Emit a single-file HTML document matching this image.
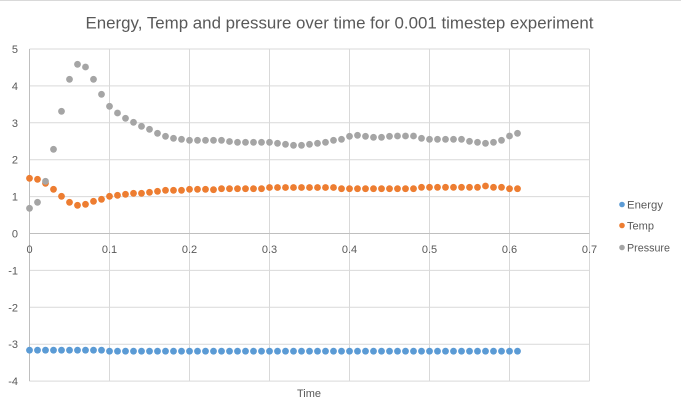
<!DOCTYPE html>
<html><head><meta charset="utf-8"><style>
html,body{margin:0;padding:0;background:#fff;}
svg{display:block;}
text{font-family:"Liberation Sans",sans-serif;fill:#595959;}
</style></head><body>
<svg width="681" height="411" viewBox="0 0 681 411" xmlns="http://www.w3.org/2000/svg">
<rect x="0" y="0" width="681" height="411" fill="#fff"/>
<line x1="0" y1="0.5" x2="681" y2="0.5" stroke="#d9d9d9" stroke-width="1"/>
<text x="339.5" y="28.5" font-size="17" text-anchor="middle" textLength="508" lengthAdjust="spacingAndGlyphs">Energy, Temp and pressure over time for 0.001 timestep experiment</text>
<g stroke="#d9d9d9" stroke-width="1">
<line x1="29.5" y1="49" x2="589.5" y2="49"/>
<line x1="29.5" y1="85.9" x2="589.5" y2="85.9"/>
<line x1="29.5" y1="122.8" x2="589.5" y2="122.8"/>
<line x1="29.5" y1="159.7" x2="589.5" y2="159.7"/>
<line x1="29.5" y1="196.6" x2="589.5" y2="196.6"/>
<line x1="29.5" y1="270.4" x2="589.5" y2="270.4"/>
<line x1="29.5" y1="307.3" x2="589.5" y2="307.3"/>
<line x1="29.5" y1="344.2" x2="589.5" y2="344.2"/>
<line x1="29.5" y1="381.1" x2="589.5" y2="381.1"/>
<line x1="109.5" y1="49" x2="109.5" y2="381.1"/>
<line x1="189.5" y1="49" x2="189.5" y2="381.1"/>
<line x1="269.5" y1="49" x2="269.5" y2="381.1"/>
<line x1="349.5" y1="49" x2="349.5" y2="381.1"/>
<line x1="429.5" y1="49" x2="429.5" y2="381.1"/>
<line x1="509.5" y1="49" x2="509.5" y2="381.1"/>
<line x1="589.5" y1="49" x2="589.5" y2="381.1"/>
</g>
<g stroke="#bfbfbf" stroke-width="1">
<line x1="29.5" y1="233.5" x2="589.5" y2="233.5"/>
<line x1="29.5" y1="49" x2="29.5" y2="381.1"/>
</g>
<g font-size="11" text-anchor="end">
<text x="18" y="53">5</text>
<text x="18" y="89.9">4</text>
<text x="18" y="126.8">3</text>
<text x="18" y="163.7">2</text>
<text x="18" y="200.6">1</text>
<text x="18" y="237.5">0</text>
<text x="18" y="274.4">-1</text>
<text x="18" y="311.3">-2</text>
<text x="18" y="348.2">-3</text>
<text x="18" y="385.1">-4</text>
</g>
<g font-size="11" text-anchor="middle">
<text x="29.5" y="253">0</text>
<text x="109.5" y="253">0.1</text>
<text x="189.5" y="253">0.2</text>
<text x="269.5" y="253">0.3</text>
<text x="349.5" y="253">0.4</text>
<text x="429.5" y="253">0.5</text>
<text x="509.5" y="253">0.6</text>
<text x="589.5" y="253">0.7</text>
<text x="309" y="397">Time</text>
</g>
<g fill="#5b9bd5">
<circle cx="29.5" cy="350.2" r="3.4"/><circle cx="37.5" cy="350.2" r="3.4"/><circle cx="45.5" cy="350.2" r="3.4"/><circle cx="53.5" cy="350.2" r="3.4"/><circle cx="61.5" cy="350.2" r="3.4"/><circle cx="69.5" cy="350.2" r="3.4"/><circle cx="77.5" cy="350.2" r="3.4"/><circle cx="85.5" cy="350.2" r="3.4"/><circle cx="93.5" cy="350.2" r="3.4"/><circle cx="101.5" cy="350.2" r="3.4"/>
<circle cx="109.5" cy="351.2" r="3.4"/><circle cx="117.5" cy="351.2" r="3.4"/><circle cx="125.5" cy="351.2" r="3.4"/><circle cx="133.5" cy="351.2" r="3.4"/><circle cx="141.5" cy="351.2" r="3.4"/><circle cx="149.5" cy="351.2" r="3.4"/><circle cx="157.5" cy="351.2" r="3.4"/><circle cx="165.5" cy="351.2" r="3.4"/><circle cx="173.5" cy="351.2" r="3.4"/><circle cx="181.5" cy="351.2" r="3.4"/>
<circle cx="189.5" cy="351.2" r="3.4"/><circle cx="197.5" cy="351.2" r="3.4"/><circle cx="205.5" cy="351.2" r="3.4"/><circle cx="213.5" cy="351.2" r="3.4"/><circle cx="221.5" cy="351.2" r="3.4"/><circle cx="229.5" cy="351.2" r="3.4"/><circle cx="237.5" cy="351.2" r="3.4"/><circle cx="245.5" cy="351.2" r="3.4"/><circle cx="253.5" cy="351.2" r="3.4"/><circle cx="261.5" cy="351.2" r="3.4"/>
<circle cx="269.5" cy="351.2" r="3.4"/><circle cx="277.5" cy="351.2" r="3.4"/><circle cx="285.5" cy="351.2" r="3.4"/><circle cx="293.5" cy="351.2" r="3.4"/><circle cx="301.5" cy="351.2" r="3.4"/><circle cx="309.5" cy="351.2" r="3.4"/><circle cx="317.5" cy="351.2" r="3.4"/><circle cx="325.5" cy="351.2" r="3.4"/><circle cx="333.5" cy="351.2" r="3.4"/><circle cx="341.5" cy="351.2" r="3.4"/>
<circle cx="349.5" cy="351.2" r="3.4"/><circle cx="357.5" cy="351.2" r="3.4"/><circle cx="365.5" cy="351.2" r="3.4"/><circle cx="373.5" cy="351.2" r="3.4"/><circle cx="381.5" cy="351.2" r="3.4"/><circle cx="389.5" cy="351.2" r="3.4"/><circle cx="397.5" cy="351.2" r="3.4"/><circle cx="405.5" cy="351.2" r="3.4"/><circle cx="413.5" cy="351.2" r="3.4"/><circle cx="421.5" cy="351.2" r="3.4"/>
<circle cx="429.5" cy="351.2" r="3.4"/><circle cx="437.5" cy="351.2" r="3.4"/><circle cx="445.5" cy="351.2" r="3.4"/><circle cx="453.5" cy="351.2" r="3.4"/><circle cx="461.5" cy="351.2" r="3.4"/><circle cx="469.5" cy="351.2" r="3.4"/><circle cx="477.5" cy="351.2" r="3.4"/><circle cx="485.5" cy="351.2" r="3.4"/><circle cx="493.5" cy="351.2" r="3.4"/><circle cx="501.5" cy="351.2" r="3.4"/>
<circle cx="509.5" cy="351.2" r="3.4"/><circle cx="517.5" cy="351.2" r="3.4"/>
</g>
<g fill="#ed7d31">
<circle cx="29.5" cy="178.3" r="3.4"/><circle cx="37.5" cy="179.3" r="3.4"/><circle cx="45.5" cy="183.3" r="3.4"/><circle cx="53.5" cy="189.3" r="3.4"/><circle cx="61.5" cy="196.3" r="3.4"/><circle cx="69.5" cy="202.3" r="3.4"/><circle cx="77.5" cy="205.3" r="3.4"/><circle cx="85.5" cy="204.3" r="3.4"/><circle cx="93.5" cy="201.3" r="3.4"/><circle cx="101.5" cy="199.3" r="3.4"/>
<circle cx="109.5" cy="196.3" r="3.4"/><circle cx="117.5" cy="195.3" r="3.4"/><circle cx="125.5" cy="194.3" r="3.4"/><circle cx="133.5" cy="193.3" r="3.4"/><circle cx="141.5" cy="193.3" r="3.4"/><circle cx="149.5" cy="192.3" r="3.4"/><circle cx="157.5" cy="191.3" r="3.4"/><circle cx="165.5" cy="190.3" r="3.4"/><circle cx="173.5" cy="190.3" r="3.4"/><circle cx="181.5" cy="190.3" r="3.4"/>
<circle cx="189.5" cy="189.3" r="3.4"/><circle cx="197.5" cy="189.3" r="3.4"/><circle cx="205.5" cy="189.3" r="3.4"/><circle cx="213.5" cy="189.7" r="3.4"/><circle cx="221.5" cy="188.7" r="3.4"/><circle cx="229.5" cy="188.7" r="3.4"/><circle cx="237.5" cy="188.7" r="3.4"/><circle cx="245.5" cy="188.7" r="3.4"/><circle cx="253.5" cy="188.7" r="3.4"/><circle cx="261.5" cy="188.7" r="3.4"/>
<circle cx="269.5" cy="187.5" r="3.4"/><circle cx="277.5" cy="187.5" r="3.4"/><circle cx="285.5" cy="187.5" r="3.4"/><circle cx="293.5" cy="187.5" r="3.4"/><circle cx="301.5" cy="187.5" r="3.4"/><circle cx="309.5" cy="187.5" r="3.4"/><circle cx="317.5" cy="187.5" r="3.4"/><circle cx="325.5" cy="187.5" r="3.4"/><circle cx="333.5" cy="187.5" r="3.4"/><circle cx="341.5" cy="188.7" r="3.4"/>
<circle cx="349.5" cy="188.7" r="3.4"/><circle cx="357.5" cy="188.7" r="3.4"/><circle cx="365.5" cy="188.7" r="3.4"/><circle cx="373.5" cy="188.7" r="3.4"/><circle cx="381.5" cy="188.7" r="3.4"/><circle cx="389.5" cy="188.7" r="3.4"/><circle cx="397.5" cy="188.7" r="3.4"/><circle cx="405.5" cy="188.7" r="3.4"/><circle cx="413.5" cy="188.7" r="3.4"/><circle cx="421.5" cy="187.3" r="3.4"/>
<circle cx="429.5" cy="187.3" r="3.4"/><circle cx="437.5" cy="187.3" r="3.4"/><circle cx="445.5" cy="187.3" r="3.4"/><circle cx="453.5" cy="187.3" r="3.4"/><circle cx="461.5" cy="187.3" r="3.4"/><circle cx="469.5" cy="187.3" r="3.4"/><circle cx="477.5" cy="187.3" r="3.4"/><circle cx="485.5" cy="186" r="3.4"/><circle cx="493.5" cy="187.3" r="3.4"/><circle cx="501.5" cy="187.3" r="3.4"/>
<circle cx="509.5" cy="188.7" r="3.4"/><circle cx="517.5" cy="188.7" r="3.4"/>
</g>
<g fill="#a5a5a5">
<circle cx="29.5" cy="208.3" r="3.4"/><circle cx="37.5" cy="202.3" r="3.4"/><circle cx="45.5" cy="181.3" r="3.4"/><circle cx="53.5" cy="149.3" r="3.4"/><circle cx="61.5" cy="111.3" r="3.4"/><circle cx="69.5" cy="79.3" r="3.4"/><circle cx="77.5" cy="64.3" r="3.4"/><circle cx="85.5" cy="67" r="3.4"/><circle cx="93.5" cy="79.3" r="3.4"/><circle cx="101.5" cy="94.3" r="3.4"/>
<circle cx="109.5" cy="106.3" r="3.4"/><circle cx="117.5" cy="113" r="3.4"/><circle cx="125.5" cy="118.3" r="3.4"/><circle cx="133.5" cy="122.3" r="3.4"/><circle cx="141.5" cy="126.3" r="3.4"/><circle cx="149.5" cy="129.3" r="3.4"/><circle cx="157.5" cy="133.3" r="3.4"/><circle cx="165.5" cy="136.3" r="3.4"/><circle cx="173.5" cy="138.3" r="3.4"/><circle cx="181.5" cy="139.3" r="3.4"/>
<circle cx="189.5" cy="140.3" r="3.4"/><circle cx="197.5" cy="140.3" r="3.4"/><circle cx="205.5" cy="140.3" r="3.4"/><circle cx="213.5" cy="140.3" r="3.4"/><circle cx="221.5" cy="140.3" r="3.4"/><circle cx="229.5" cy="141.5" r="3.4"/><circle cx="237.5" cy="142.3" r="3.4"/><circle cx="245.5" cy="142.3" r="3.4"/><circle cx="253.5" cy="142.3" r="3.4"/><circle cx="261.5" cy="142.3" r="3.4"/>
<circle cx="269.5" cy="142.3" r="3.4"/><circle cx="277.5" cy="143.3" r="3.4"/><circle cx="285.5" cy="144.3" r="3.4"/><circle cx="293.5" cy="145.3" r="3.4"/><circle cx="301.5" cy="145.3" r="3.4"/><circle cx="309.5" cy="144.3" r="3.4"/><circle cx="317.5" cy="143.3" r="3.4"/><circle cx="325.5" cy="142.3" r="3.4"/><circle cx="333.5" cy="140.3" r="3.4"/><circle cx="341.5" cy="139.3" r="3.4"/>
<circle cx="349.5" cy="136.3" r="3.4"/><circle cx="357.5" cy="135.3" r="3.4"/><circle cx="365.5" cy="136.3" r="3.4"/><circle cx="373.5" cy="137.3" r="3.4"/><circle cx="381.5" cy="137.3" r="3.4"/><circle cx="389.5" cy="136.3" r="3.4"/><circle cx="397.5" cy="136" r="3.4"/><circle cx="405.5" cy="136" r="3.4"/><circle cx="413.5" cy="136" r="3.4"/><circle cx="421.5" cy="138.3" r="3.4"/>
<circle cx="429.5" cy="139.3" r="3.4"/><circle cx="437.5" cy="139.3" r="3.4"/><circle cx="445.5" cy="139.3" r="3.4"/><circle cx="453.5" cy="139.3" r="3.4"/><circle cx="461.5" cy="139.3" r="3.4"/><circle cx="469.5" cy="141.3" r="3.4"/><circle cx="477.5" cy="142.3" r="3.4"/><circle cx="485.5" cy="143.3" r="3.4"/><circle cx="493.5" cy="142.3" r="3.4"/><circle cx="501.5" cy="140.3" r="3.4"/>
<circle cx="509.5" cy="136" r="3.4"/><circle cx="517.5" cy="133.3" r="3.4"/>
</g>
<circle cx="622" cy="204.5" r="2.8" fill="#5b9bd5"/>
<circle cx="622" cy="225.5" r="2.8" fill="#ed7d31"/>
<circle cx="622" cy="247.5" r="2.8" fill="#a5a5a5"/>
<g font-size="11">
<text x="627" y="208.5" textLength="36" lengthAdjust="spacingAndGlyphs">Energy</text>
<text x="627" y="229.5" textLength="27" lengthAdjust="spacingAndGlyphs">Temp</text>
<text x="627" y="251.5" textLength="43" lengthAdjust="spacingAndGlyphs">Pressure</text>
</g>
</svg>
</body></html>
